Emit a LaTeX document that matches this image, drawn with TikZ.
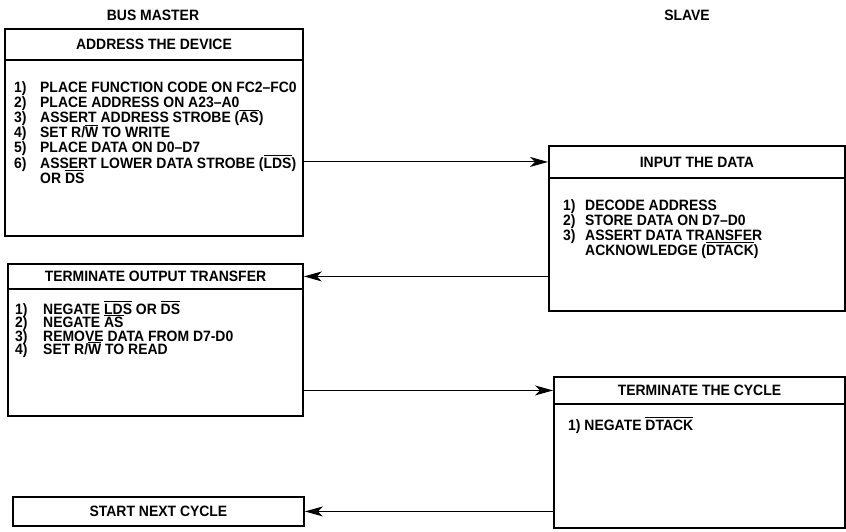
\documentclass[tikz,border=0pt]{standalone}
\usepackage{fontspec}
\setmainfont{Liberation Sans}[FakeStretch=0.93]
\usetikzlibrary{arrows.meta}
\newlength\ovlw
\newcommand\ovl[1]{\settowidth{\ovlw}{#1}\rlap{\rule[12pt]{\ovlw}{0.9pt}}#1}
\begin{document}
\begin{tikzpicture}[x=1pt,y=-1pt,
  every node/.style={font=\fontsize{15}{15}\selectfont\bfseries, inner sep=0pt},
  frame/.style={draw, line width=1.9pt, anchor=north west},
  item/.style={anchor=base west},
  arr/.style={line width=1.1pt, -{Stealth[length=18pt,width=10pt,inset=5pt]}}]
\useasboundingbox (0,0) rectangle (846,532);

\node (bm) at (153,15) {BUS MASTER};
\node (sl) at (687,15) {SLAVE};

% Box 1
\node[frame, minimum width=298pt, minimum height=31pt] (b1h) at (4,28) {ADDRESS THE DEVICE};
\node[frame, minimum width=298pt, minimum height=176pt] (b1) at (4,59) {};
\node[item] (b1l1) at (14,93)  {\makebox[26pt][l]{1)}PLACE FUNCTION CODE ON FC2–FC0};
\node[item] (b1l2) at (14,108) {\makebox[26pt][l]{2)}PLACE ADDRESS ON A23–A0};
\node[item] (b1l3) at (14,123) {\makebox[26pt][l]{3)}ASSERT ADDRESS STROBE (\ovl{AS})};
\node[item] (b1l4) at (14,138) {\makebox[26pt][l]{4)}SET R/\ovl{W} TO WRITE};
\node[item] (b1l5) at (14,153) {\makebox[26pt][l]{5)}PLACE DATA ON D0–D7};
\node[item] (b1l6) at (14,168) {\makebox[26pt][l]{6)}ASSERT LOWER DATA STROBE (\ovl{LDS})};
\node[item] (b1l7) at (40,183) {OR \ovl{DS}};

% Slave box 1
\node[frame, minimum width=296pt, minimum height=32pt] (s1h) at (548,145) {INPUT THE DATA};
\node[frame, minimum width=296pt, minimum height=133pt] (s1) at (548,177) {};
\node[item] (s1l1) at (563,210) {\makebox[22pt][l]{1)}DECODE ADDRESS};
\node[item] (s1l2) at (563,225) {\makebox[22pt][l]{2)}STORE DATA ON D7–D0};
\node[item] (s1l3) at (563,240) {\makebox[22pt][l]{3)}ASSERT DATA TRANSFER};
\node[item] (s1l4) at (585,255) {ACKNOWLEDGE (\ovl{DTACK})};

% Box 2
\node[frame, minimum width=295pt, minimum height=25pt] (b2h) at (7,263) {TERMINATE OUTPUT TRANSFER};
\node[frame, minimum width=295pt, minimum height=127pt] (b2) at (7,288) {};
\node[item] (b2l1) at (15,314)   {\makebox[28pt][l]{1)}NEGATE \ovl{LDS} OR \ovl{DS}};
\node[item] (b2l2) at (15,327.5) {\makebox[28pt][l]{2)}NEGATE \ovl{AS}};
\node[item] (b2l3) at (15,341)   {\makebox[28pt][l]{3)}REMOVE DATA FROM D7-D0};
\node[item] (b2l4) at (15,354.5) {\makebox[28pt][l]{4)}SET R/\ovl{W} TO READ};

% Slave box 2
\node[frame, minimum width=291pt, minimum height=27pt] (s2h) at (553,376) {TERMINATE THE CYCLE};
\node[frame, minimum width=291pt, minimum height=124pt] (s2) at (553,403) {};
\node[item] (s2l1) at (568,430) {1) NEGATE \ovl{DTACK}};

% Box 3
\node[frame, minimum width=291pt, minimum height=29pt] (b3) at (12,496) {START NEXT CYCLE};

% Connectors
\draw[arr] (b1.east |- s1h.west) -- (s1h.west);
\draw[arr] (s1.west |- b2h.east) -- (b2h.east);
\draw[arr] (b2.east |- s2h.west) -- (s2h.west);
\draw[arr] (s2.west |- b3.east) -- (b3.east);
\end{tikzpicture}
\end{document}
